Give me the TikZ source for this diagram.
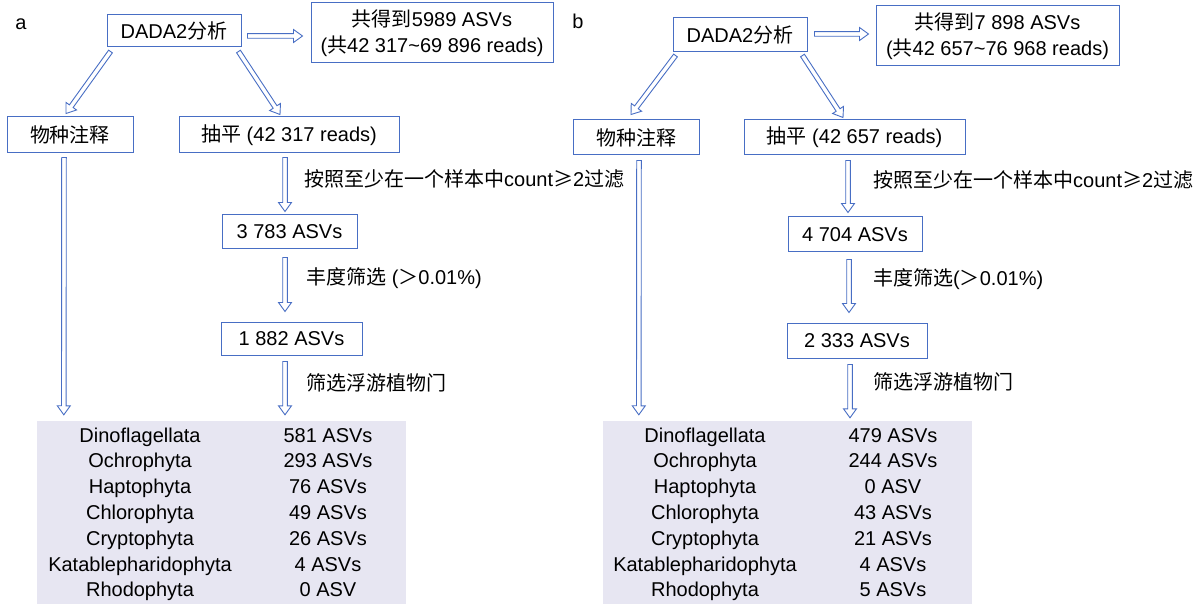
\documentclass[tikz,border=0pt]{standalone}
\usepackage{fontspec}
\setmainfont{Liberation Sans}
\newfontfamily\cjk{Noto Sans CJK SC}
\usetikzlibrary{calc}
\definecolor{boxblue}{RGB}{72,110,196}
\definecolor{tabfill}{RGB}{231,230,242}
\begin{document}
\begin{tikzpicture}[x=1pt,y=-1pt,
  every node/.style={font=\fontsize{20}{26}\selectfont, inner sep=0pt},
  box/.style={draw=boxblue, line width=1pt, align=center},
  lbl/.style={anchor=west},
  cell/.style={anchor=base},
  panellbl/.style={anchor=base},
  tabbg/.style={fill=tabfill, draw=none},
  barrow/.style={draw=boxblue, line width=0.9pt, fill=white, line join=miter, to path={
    ($(\tikztotarget)!9pt!(\tikztostart)$) coordinate (ahb)
    ($(\tikztostart)!2.3pt!90:(\tikztotarget)$) -- ($(ahb)!2.3pt!90:(\tikztotarget)$)
    -- ($(ahb)!6.5pt!90:(\tikztotarget)$) -- (\tikztotarget)
    -- ($(ahb)!6.5pt!-90:(\tikztotarget)$) -- ($(ahb)!2.3pt!-90:(\tikztotarget)$)
    -- ($(\tikztostart)!2.3pt!-90:(\tikztotarget)$) -- cycle}}]
\useasboundingbox (0,0) rectangle (1200,604);

% ---------------- panel a ----------------
\node[panellbl] (pa) at (21,30) {a};
\node[box, minimum width=134pt, minimum height=32pt] (dadaA) at (174,31) {DADA2{\cjk 分析}};
\node[box, minimum width=242pt, minimum height=60pt] (resA) at (432,33) {{\cjk 共得到}5989 ASVs\\({\cjk 共}42 317\textasciitilde 69 896 reads)};
\node[box, minimum width=126pt, minimum height=36pt] (wzA) at (70,135) {\cjk 物种注释};
\node[box, minimum width=220pt, minimum height=36pt] (cpA) at (289,135) {{\cjk 抽平} (42 317 reads)};
\node[box, minimum width=135pt, minimum height=34pt] (n1A) at (289.5,232) {3 783 ASVs};
\node[box, minimum width=141pt, minimum height=33pt] (n2A) at (291.5,338.5) {1 882 ASVs};
\node[tabbg, minimum width=369pt, minimum height=183pt] (tabA) at (221.5,512.5) {};

\node[lbl] (l1A) at (304,179) {{\cjk 按照至少在一个样本中}count{\cjk ≥}2{\cjk 过滤}};
\node[lbl] (l2A) at (306,278) {{\cjk 丰度筛选} ({\cjk ＞}0.01\%)};
\node[lbl] (l3A) at (306,383) {\cjk 筛选浮游植物门};

\foreach \nm/\va [count=\i] in {Dinoflagellata/581 ASVs, Ochrophyta/293 ASVs, Haptophyta/76 ASVs, Chlorophyta/49 ASVs, Cryptophyta/26 ASVs, Katablepharidophyta/4 ASVs, Rhodophyta/0 ASV} {
  \node[cell] (taA\i) at (140,{442+(\i-1)*25.8}) {\nm};
  \node[cell] (tbA\i) at (328,{442+(\i-1)*25.8}) {\va};
}

\draw[barrow] ($(dadaA.east)+(6,5)$) to ($(resA.west)+(-8,3)$);
\draw[barrow] ($(dadaA.south west)+(4,4)$) to ($(wzA.north)+(-4,-3)$);
\draw[barrow] ($(dadaA.south east)+(-3,4)$) to ($(cpA.north)+(-9,-2)$);
\draw[barrow] ($(cpA.south)+(-4,4)$) to ($(n1A.north)+(-4.5,-3)$);
\draw[barrow] ($(n1A.south)+(-4.5,8)$) to ($(n2A.north)+(-6.5,-10)$);
\draw[barrow] ($(n2A.south)+(-6.5,6)$) to ($(tabA.north)+(63.5,-6)$);
\draw[barrow] ($(wzA.south)+(-6,4)$) to ($(tabA.north west)+(27,-6)$);

% ---------------- panel b ----------------
\node[panellbl] (pb) at (578,29) {b};
\node[box, minimum width=134pt, minimum height=34pt] (dadaB) at (740,35) {DADA2{\cjk 分析}};
\node[box, minimum width=243pt, minimum height=60pt] (resB) at (997.5,36) {{\cjk 共得到}7 898 ASVs\\({\cjk 共}42 657\textasciitilde 76 968 reads)};
\node[box, minimum width=126pt, minimum height=35pt] (wzB) at (636,137.5) {\cjk 物种注释};
\node[box, minimum width=221pt, minimum height=35pt] (cpB) at (854.5,137.5) {{\cjk 抽平} (42 657 reads)};
\node[box, minimum width=134pt, minimum height=35pt] (n1B) at (855,234.5) {4 704 ASVs};
\node[box, minimum width=140pt, minimum height=35pt] (n2B) at (857,340.5) {2 333 ASVs};
\node[tabbg, minimum width=369pt, minimum height=183pt] (tabB) at (787.5,512.5) {};

\node[lbl] (l1B) at (873,180) {{\cjk 按照至少在一个样本中}count{\cjk ≥}2{\cjk 过滤}};
\node[lbl] (l2B) at (873,279) {{\cjk 丰度筛选}({\cjk ＞}0.01\%)};
\node[lbl] (l3B) at (873,382) {\cjk 筛选浮游植物门};

\foreach \nm/\va [count=\i] in {Dinoflagellata/479 ASVs, Ochrophyta/244 ASVs, Haptophyta/0 ASV, Chlorophyta/43 ASVs, Cryptophyta/21 ASVs, Katablepharidophyta/4 ASVs, Rhodophyta/5 ASVs} {
  \node[cell] (taB\i) at (705,{442+(\i-1)*25.8}) {\nm};
  \node[cell] (tbB\i) at (893,{442+(\i-1)*25.8}) {\va};
}

\draw[barrow] ($(dadaB.east)+(7,-1)$) to ($(resB.west)+(-7,-2)$);
\draw[barrow] ($(dadaB.south west)+(3,3)$) to ($(wzB.north)+(-5,-5)$);
\draw[barrow] ($(dadaB.south east)+(-5,3)$) to ($(cpB.north)+(-11.5,-2)$);
\draw[barrow] ($(cpB.south)+(-6.5,5)$) to ($(n1B.north)+(-7,-4)$);
\draw[barrow] ($(n1B.south)+(-6,7)$) to ($(n2B.north)+(-8,-10)$);
\draw[barrow] ($(n2B.south)+(-7,6)$) to ($(tabB.north)+(62.5,-3)$);
\draw[barrow] ($(wzB.south)+(3,5)$) to ($(tabB.north west)+(36,-6)$);
\end{tikzpicture}
\end{document}
